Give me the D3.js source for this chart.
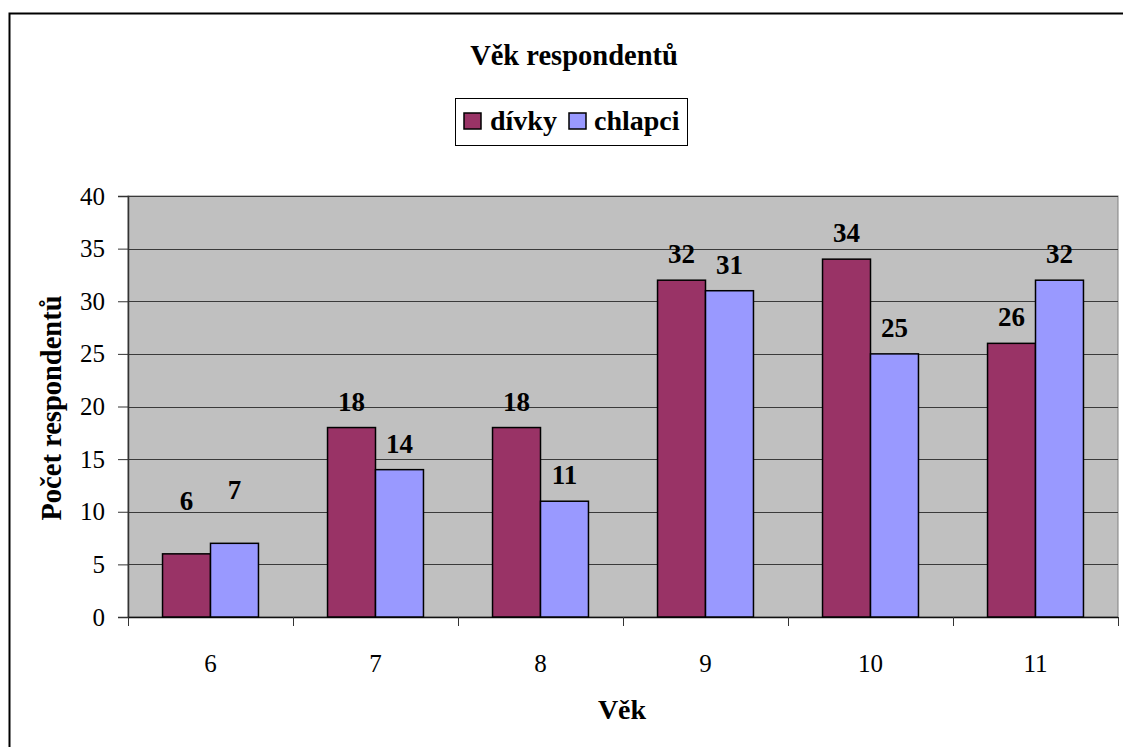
<!DOCTYPE html>
<html>
<head>
<meta charset="utf-8">
<script src="https://cdn.jsdelivr.net/npm/d3@7"></script>
<style>
  html, body { margin: 0; padding: 0; background: #fff; }
  svg { display: block; }
</style>
</head>
<body>
<svg id="chart" width="1123" height="747" font-family="Liberation Serif"></svg>
<script>
// Age groups and respondent counts per group
const ages = ["6", "7", "8", "9", "10", "11"];
const seriesNames = ["dívky", "chlapci"];
const girls = [6, 18, 18, 32, 34, 26];
const boys = [7, 14, 11, 31, 25, 32];
const yTicks = [0, 5, 10, 15, 20, 25, 30, 35, 40];
const colors = ["#993366", "#9999FF"];

const FONT = "Liberation Serif";
const svg = d3.select("#chart");
const W = 1123, H = 747;
const plot = { left: 128, right: 1118, top: 196, bottom: 617 };

// outer chart frame
svg.append("rect")
  .attr("x", 9.5).attr("y", 13.5)
  .attr("width", W + 10).attr("height", H + 10)
  .attr("fill", "#fff").attr("stroke", "#000").attr("stroke-width", 2);

const x0 = d3.scaleBand().domain(ages).range([plot.left, plot.right]).paddingInner(0).paddingOuter(0);
const x1 = d3.scaleBand().domain(seriesNames).range([0, x0.bandwidth()]).paddingInner(0).paddingOuter(0.72);
const y = d3.scaleLinear().domain([0, 40]).range([plot.bottom, plot.top]);

// plot area background
svg.append("rect")
  .attr("x", plot.left).attr("y", plot.top)
  .attr("width", plot.right - plot.left).attr("height", plot.bottom - plot.top)
  .attr("fill", "#C0C0C0").attr("stroke", "#808080").attr("stroke-width", 1);

// horizontal gridlines
svg.append("g").selectAll("line").data(yTicks.filter(d => d > 0)).join("line")
  .attr("x1", plot.left).attr("x2", plot.right)
  .attr("y1", d => Math.round(y(d)) + 0.5).attr("y2", d => Math.round(y(d)) + 0.5)
  .attr("stroke", "#3a3a3a").attr("stroke-width", 1);

// y axis
const yAxis = svg.append("g")
  .attr("transform", `translate(${plot.left},0)`)
  .call(d3.axisLeft(y).tickValues(yTicks).tickSize(10).tickPadding(13));
yAxis.attr("font-family", FONT).attr("font-size", 25);
yAxis.select(".domain").attr("stroke", "#333").attr("stroke-width", 1.5);
yAxis.selectAll(".tick line").attr("stroke", "#333");
yAxis.selectAll("text").attr("font-size", 25).attr("font-family", FONT).attr("fill", "#000");

// x axis with ticks between categories
const xAxis = svg.append("g").attr("transform", `translate(0,${plot.bottom})`);
xAxis.append("line").attr("x1", plot.left).attr("x2", plot.right).attr("y1", 0.5).attr("y2", 0.5)
  .attr("stroke", "#111").attr("stroke-width", 1.5);
const boundaries = ages.map(a => x0(a)).concat([plot.right]);
xAxis.selectAll(".xt").data(boundaries).join("line")
  .attr("x1", d => d + 0.5).attr("x2", d => d + 0.5).attr("y1", 0).attr("y2", 9)
  .attr("stroke", "#333").attr("stroke-width", 1);
xAxis.selectAll(".xl").data(ages).join("text")
  .attr("x", d => x0(d) + x0.bandwidth() / 2).attr("y", 55)
  .attr("text-anchor", "middle").attr("font-family", FONT).attr("font-size", 25).text(d => d);

// bars
const rows = ages.map((a, i) => ({ age: a, values: [girls[i], boys[i]] }));
const groups = svg.append("g").selectAll("g").data(rows).join("g")
  .attr("transform", d => `translate(${x0(d.age)},0)`);
groups.selectAll("rect").data(d => d.values.map((v, k) => ({ name: seriesNames[k], v, k }))).join("rect")
  .attr("x", d => x1(d.name)).attr("width", x1.bandwidth())
  .attr("y", d => y(d.v)).attr("height", d => y(0) - y(d.v))
  .attr("fill", d => colors[d.k]).attr("stroke", "#000").attr("stroke-width", 1.5);

// value labels above bars; the first group's labels sit higher, clear of the 5 gridline
groups.selectAll("text")
  .data(d => d.values.map((v, k) => ({ name: seriesNames[k], v, k, lift: d.age === ages[0] ? 27 : 0 })))
  .join("text")
  .attr("x", d => x1(d.name) + x1.bandwidth() / 2).attr("y", d => y(d.v) - 17 - d.lift)
  .attr("text-anchor", "middle").attr("font-family", FONT).attr("font-size", 27)
  .attr("font-weight", "bold").text(d => d.v);

// title
svg.append("text").attr("x", 574).attr("y", 65).attr("text-anchor", "middle")
  .attr("font-family", FONT).attr("font-size", 28.5).attr("font-weight", "bold").text("Věk respondentů");

// axis titles
svg.append("text").attr("x", 622).attr("y", 719).attr("text-anchor", "middle")
  .attr("font-family", FONT).attr("font-size", 28).attr("font-weight", "bold").text("Věk");
svg.append("text").attr("transform", "translate(61,408) rotate(-90)").attr("text-anchor", "middle")
  .attr("font-family", FONT).attr("font-size", 28.5).attr("font-weight", "bold").text("Počet respondentů");

// legend
const legend = svg.append("g");
legend.append("rect").attr("x", 455.5).attr("y", 98.5).attr("width", 232).attr("height", 47)
  .attr("fill", "#fff").attr("stroke", "#000").attr("stroke-width", 1);
const legendItems = [{ name: seriesNames[0], sx: 464, tx: 490 }, { name: seriesNames[1], sx: 569, tx: 594 }];
legendItems.forEach((it, k) => {
  legend.append("rect").attr("x", it.sx).attr("y", 113).attr("width", 17).attr("height", 16)
    .attr("fill", colors[k]).attr("stroke", "#000").attr("stroke-width", 1.5);
  legend.append("text").attr("x", it.tx).attr("y", 130)
    .attr("font-family", FONT).attr("font-size", 28).attr("font-weight", "bold").text(it.name);
});
</script>
</body>
</html>
